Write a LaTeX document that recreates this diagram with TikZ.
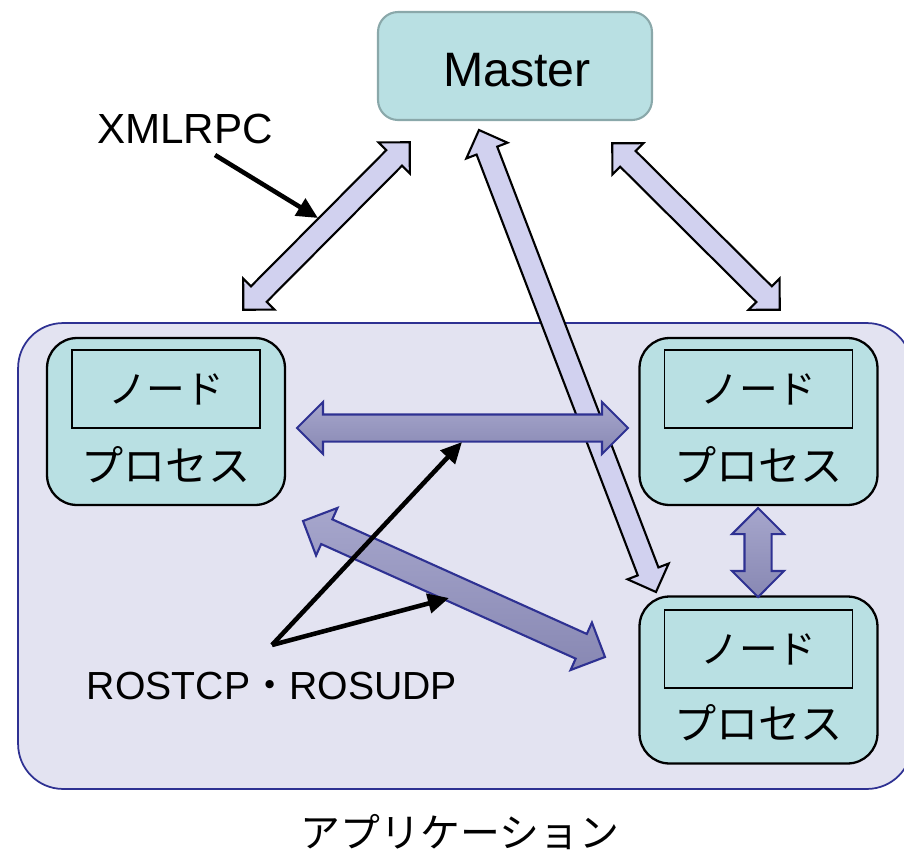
\documentclass[tikz,border=0pt]{standalone}
\usepackage{fontspec}
\setmainfont{Liberation Sans}
\newfontfamily\jp{Noto Sans CJK JP}
\usepackage{tikz}
\usetikzlibrary{shapes.arrows,calc,arrows.meta}

\definecolor{tealbox}{HTML}{B9E0E3}
\definecolor{tealedge}{HTML}{8AA8AA}
\definecolor{appfill}{HTML}{E3E3F1}
\definecolor{navy}{HTML}{2E3192}
\definecolor{rpcfill}{HTML}{D1D1EF}
\definecolor{tcptop}{HTML}{A6A6CC}
\definecolor{tcpbot}{HTML}{8888B3}

\tikzset{
  procbox/.style={draw=black, line width=1.3pt, fill=tealbox, rounded corners=0.6cm,
    minimum width=4.76cm, minimum height=3.34cm},
  nodebox/.style={draw=black, line width=1pt, fill=tealbox, minimum width=3.76cm,
    minimum height=1.56cm, font=\jp\fontsize{22}{26}\selectfont},
  jptext/.style={font=\jp\fontsize{24}{28}\selectfont},
  rpcarrow/.style={double arrow, draw=black, line width=1.2pt, fill=rpcfill,
    inner xsep=0pt, inner ysep=0.2cm, double arrow head extend=0.22cm, outer sep=0pt},
  tcparrow/.style={double arrow, draw=navy, line width=1.2pt, top color=tcptop,
    bottom color=tcpbot, inner xsep=0pt, inner ysep=0.25cm,
    double arrow head extend=0.25cm, outer sep=0pt},
  pointer/.style={line width=2.6pt, -{Triangle[length=12pt,width=11pt]}},
}

% block double arrow between two points
\newcommand\blockarrow[4]{%
  \path let \p1=($(#4)-(#3)$), \n1={atan2(\y1,\x1)}, \n2={veclen(\x1,\y1)} in
    node[#1, minimum height=\n2, rotate=\n1] (#2) at ($(#3)!0.5!(#4)$) {};
}

\begin{document}
\begin{tikzpicture}[x=0.02cm,y=-0.02cm]
    \useasboundingbox (0,0) rectangle (904,856);
    % Application
    \node[draw=navy, line width=1pt, fill=appfill, rounded corners=0.9cm,
      minimum width=17.88cm, minimum height=9.32cm] (app) at (465,556) {};
    \node[font=\jp\fontsize{22.7}{27}\selectfont] (applabel) at (460,832) {アプリケーション};
    % Master
    \node[draw=tealedge, line width=1.2pt, fill=tealbox, rounded corners=0.4cm,
      minimum width=5.48cm, minimum height=2.16cm] (master) at (515,66) {};
    \node[font=\fontsize{27.5}{32}\selectfont] (mastert) at (517,70) {Master};
    % Processes
    \node[procbox] (procL) at (166,421.5) {};
    \node[procbox] (procR) at (758.5,421.5) {};
    \node[procbox] (procB) at (758.5,680) {};
    \node[nodebox] (nodeL) at (166,389) {ノード};
    \node[nodebox] (nodeR) at (758.5,389) {ノード};
    \node[nodebox] (nodeB) at (758.5,649) {ノード};
    \node[jptext] (procLt) at (166,465) {プロセス};
    \node[jptext] (procRt) at (758.5,465) {プロセス};
    \node[jptext] (procBt) at (758.5,723) {プロセス};
    % XMLRPC
    \coordinate (rpcL1) at (243,310);
    \coordinate (rpcL2) at (410,142);
    \coordinate (rpcM1) at (479,130);
    \coordinate (rpcM2) at (656,592);
    \coordinate (rpcR1) at (612,143);
    \coordinate (rpcR2) at (780,310);
    \blockarrow{rpcarrow}{rpcL}{rpcL1}{rpcL2}
    \blockarrow{rpcarrow}{rpcM}{rpcM1}{rpcM2}
    \blockarrow{rpcarrow}{rpcR}{rpcR1}{rpcR2}
    % ROSTCP / ROSUDP
    \coordinate (tcpH1) at (297,428);
    \coordinate (tcpH2) at (628,428);
    \coordinate (tcpD1) at (303,521);
    \coordinate (tcpD2) at (605,657);
    \coordinate (tcpV1) at (758,508);
    \coordinate (tcpV2) at (758,597);
    \blockarrow{tcparrow}{tcpH}{tcpH1}{tcpH2}
    \blockarrow{tcparrow}{tcpD}{tcpD1}{tcpD2}
    \blockarrow{tcparrow}{tcpV}{tcpV1}{tcpV2}
    % Labels
    \node[font=\fontsize{24}{28}\selectfont] (xmlrpc) at (185,129) {XMLRPC};
    \node[font=\fontsize{22.3}{27}\selectfont] (rostcp) at (272,686)
      {ROSTCP{\jp ・}ROSUDP};
    \coordinate (xmlstart) at (215,155);
    \coordinate (xmlhit) at (318,218);
    \coordinate (tcpstart) at (272,645);
    \coordinate (tcphitH) at (462,442);
    \coordinate (tcphitD) at (449,598);
    \draw[pointer] (xmlstart) -- (xmlhit);
    \draw[pointer] (tcpstart) -- (tcphitH);
    \draw[pointer] (tcpstart) -- (tcphitD);
\end{tikzpicture}
\end{document}
